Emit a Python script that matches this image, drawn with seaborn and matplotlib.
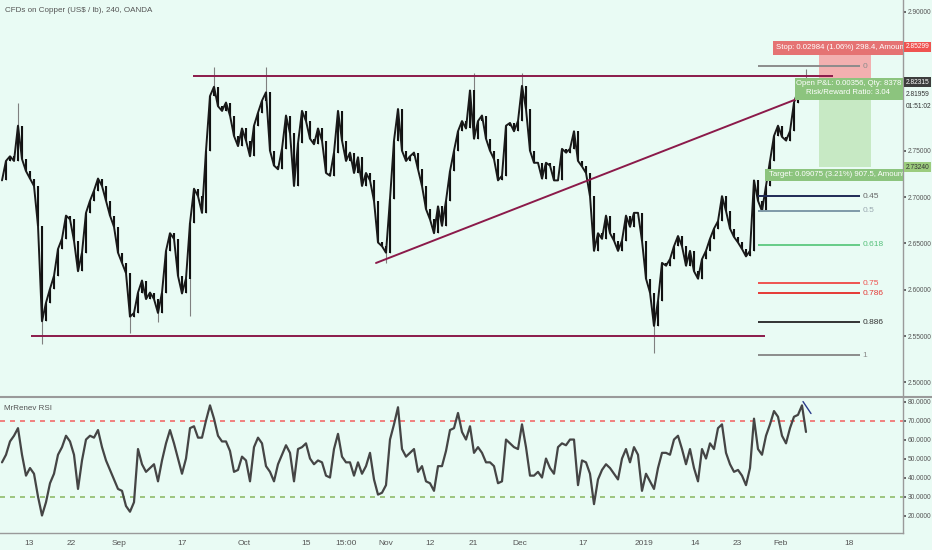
import matplotlib
matplotlib.use("Agg")
import matplotlib.pyplot as plt
from matplotlib.patches import Rectangle
from matplotlib.lines import Line2D
from matplotlib.ticker import FormatStrFormatter
import seaborn as sns
import numpy as np
import pandas as pd

# 4h closes, one value per ~4 candles
closes = [
    2.718, 2.739, 2.744, 2.739, 2.777, 2.741, 2.728, 2.720, 2.712, 2.669,
    2.566, 2.586, 2.601, 2.615, 2.644, 2.655, 2.680, 2.676, 2.653, 2.620,
    2.640, 2.683, 2.696, 2.707, 2.720, 2.712, 2.696, 2.680, 2.668, 2.640,
    2.629, 2.618, 2.571, 2.575, 2.597, 2.610, 2.590, 2.597, 2.590, 2.575,
    2.597, 2.642, 2.661, 2.655, 2.615, 2.596, 2.612, 2.672, 2.709, 2.701,
    2.683, 2.750, 2.809, 2.819, 2.798, 2.793, 2.802, 2.788, 2.766, 2.755,
    2.774, 2.761, 2.744, 2.777, 2.791, 2.804, 2.813, 2.750, 2.734, 2.730,
    2.752, 2.788, 2.769, 2.712, 2.758, 2.793, 2.782, 2.763, 2.757, 2.774,
    2.761, 2.726, 2.723, 2.748, 2.793, 2.761, 2.739, 2.748, 2.726, 2.743,
    2.712, 2.726, 2.718, 2.696, 2.651, 2.647, 2.640, 2.698, 2.761, 2.795,
    2.750, 2.739, 2.744, 2.748, 2.730, 2.712, 2.687, 2.676, 2.661, 2.690,
    2.669, 2.696, 2.728, 2.750, 2.771, 2.782, 2.774, 2.815, 2.763, 2.782,
    2.788, 2.763, 2.750, 2.741, 2.718, 2.723, 2.777, 2.780, 2.771, 2.782,
    2.820, 2.795, 2.750, 2.737, 2.737, 2.720, 2.737, 2.734, 2.718, 2.718,
    2.752, 2.748, 2.752, 2.771, 2.739, 2.733, 2.726, 2.701, 2.642, 2.661,
    2.655, 2.680, 2.661, 2.653, 2.642, 2.653, 2.680, 2.668, 2.683, 2.683,
    2.653, 2.612, 2.597, 2.561, 2.588, 2.629, 2.626, 2.633, 2.647, 2.658,
    2.647, 2.626, 2.642, 2.620, 2.612, 2.633, 2.642, 2.655, 2.666, 2.674,
    2.701, 2.685, 2.666, 2.657, 2.651, 2.644, 2.636, 2.642, 2.718, 2.696,
    2.685, 2.712, 2.739, 2.766, 2.777, 2.765, 2.761, 2.771, 2.802, 2.815,
    2.823, 2.8196,
]

rsi = [
    48, 52, 59, 62, 66, 52, 41, 45, 42, 30,
    20, 27, 37, 42, 52, 56, 62, 59, 52, 34,
    49, 60, 62, 61, 65, 56, 49, 44, 39, 34,
    33, 25, 22, 27, 55, 47, 43, 45, 47, 38,
    49, 58, 65, 58, 50, 42, 50, 66, 67, 61,
    61, 70, 78, 71, 62, 59, 59, 54, 43, 44,
    51, 49, 38, 56, 61, 58, 46, 43, 38, 47,
    52, 57, 53, 38, 55, 56, 58, 50, 47, 49,
    48, 41, 40, 55, 63, 51, 48, 48, 41, 48,
    42, 46, 53, 39, 31, 32, 36, 60, 68, 77,
    55, 51, 53, 55, 43, 46, 38, 37, 33, 46,
    46, 54, 65, 66, 74, 64, 60, 67, 53, 56,
    53, 48, 48, 46, 37, 38, 60, 58, 56, 55,
    68, 56, 41, 41, 43, 40, 50, 45, 42, 56,
    58, 57, 60, 60, 36, 49, 48, 42, 26, 39,
    44, 47, 45, 42, 39, 50, 55, 48, 56, 52,
    33, 42, 38, 34, 45, 53, 53, 52, 60, 62,
    55, 47, 55, 45, 38, 55, 50, 58, 55, 66,
    68, 53, 47, 43, 44, 41, 36, 45, 71, 55,
    52, 62, 68, 75, 72, 62, 58, 66, 72, 73,
    78, 64,
]

# long wicks that stick out of the close path
spike_idx = [4, 10, 32, 39, 47, 53, 66, 96, 118, 130, 163, 201]
spike_px = [2.801, 2.541, 2.553, 2.565, 2.572, 2.840, 2.840, 2.629, 2.834, 2.834, 2.532, 2.838]

tick_pos = [6.75, 17.25, 29.25, 45, 60.5, 76, 86, 96, 107, 117.75, 129.5,
            145.25, 160.5, 173.25, 183.75, 194.75, 211.75]
tick_lbl = ['13', '22', 'Sep', '17', 'Oct', '15', '15:00', 'Nov', '12', '21', 'Dec',
            '17', '2019', '14', '23', 'Feb', '18']

price_ticks = [2.50, 2.55, 2.60, 2.65, 2.70, 2.75, 2.90]
rsi_ticks = [20, 30, 40, 50, 60, 70, 80]

# drawings
resist_px, resist_x = 2.8305, [47.75, 207.75]
support_px, support_x = 2.5497, [7.25, 190.75]
trend_x, trend_px = [93.5, 199.5], [2.6289, 2.8071]

fib_levels = [0, 0.45, 0.5, 0.618, 0.75, 0.786, 0.886, 1]
fib_colors = ['#8c8c8c', '#1f2a55', '#7f9aa8', '#66cc88', '#ef5350', '#e53935', '#333333', '#8c8c8c']
fib_text_colors = ['#8c8c8c', '#666666', '#9aa8b0', '#55c07a', '#ef5350', '#e53935', '#333333', '#8c8c8c']
fib_high, fib_low = 2.8409, 2.5293
fib_x = [189, 214.5]

entry, stop, target, last = 2.82315, 2.85299, 2.73240, 2.81959
pos_x = [204.25, 217.25]

bg = '#e9fbf4'
maroon = '#8b1a4a'
sns.set_theme(style="white", rc={'axes.facecolor': bg, 'figure.facecolor': bg})
plt.rcParams['font.family'] = ['Liberation Sans', 'DejaVu Sans']

W, H = 932, 550
fig = plt.figure(figsize=(W / 100, H / 100), dpi=100)
ax = fig.add_axes([0, 1 - 396 / H, 903 / W, 396 / H])
ax2 = fig.add_axes([0, 1 - 533 / H, 903 / W, (533 - 397) / H])

# candles
n = len(closes)
bars = np.arange(n)
c = np.array(closes)
o = np.r_[c[0], c[:-1]]
hi = np.maximum(o, c)
lo = np.minimum(o, c)
wh, wl = hi.copy(), lo.copy()
for i, p in zip(spike_idx, spike_px):
    if p > wh[i]:
        wh[i] = p
    else:
        wl[i] = min(wl[i], p)
ax.vlines(bars, wl, wh, color='#808080', lw=0.8, zorder=2)
ax.vlines(bars, lo, hi, color='#111111', lw=1.5, zorder=3)
sns.lineplot(x=bars, y=c, ax=ax, color='#1a1a1a', lw=1.4, zorder=3)

# trend lines
ax.hlines(resist_px, *resist_x, color=maroon, lw=1.4, zorder=4)
ax.hlines(support_px, *support_x, color=maroon, lw=1.4, zorder=4)
ax.plot(trend_x, trend_px, color=maroon, lw=1.4, zorder=4)

# fib retracement
for lev, col, tcol in zip(fib_levels, fib_colors, fib_text_colors):
    p = fib_high - lev * (fib_high - fib_low)
    ax.hlines(p, *fib_x, color=col, lw=1.4, zorder=4)
    ax.text(fib_x[1] + 0.6, p, str(lev), color=tcol, fontsize=6, va='center', ha='left')

# short position boxes
ax.add_patch(Rectangle((pos_x[0], entry), pos_x[1] - pos_x[0], stop - entry,
                       fc='#f2b0b0', ec='none', zorder=1))
ax.add_patch(Rectangle((pos_x[0], target), pos_x[1] - pos_x[0], entry - target,
                       fc='#c7e9c4', ec='none', zorder=1))

# position labels
lab_fs = 5.6
ax.add_patch(Rectangle((192.75, 2.8536), 40, 0.0151, fc='#e57373', ec='none', zorder=5))
ax.text(193.6, 2.8612, 'Stop: 0.02984 (1.06%) 298.4, Amount', color='white',
        fontsize=lab_fs, va='center', ha='left', zorder=6, clip_on=True)
ax.add_patch(Rectangle((198.25, 2.8051), 40, 0.0237, fc='#8cc47e', ec='none', zorder=5))
ax.text(211.6, 2.8223, 'Open P&L: 0.00356, Qty: 8378', color='white',
        fontsize=lab_fs, va='center', ha='center', zorder=6, clip_on=True)
ax.text(211.6, 2.8126, 'Risk/Reward Ratio: 3.04', color='white',
        fontsize=lab_fs, va='center', ha='center', zorder=6, clip_on=True)
ax.add_patch(Rectangle((190.75, 2.7177), 40, 0.0129, fc='#8cc47e', ec='none', zorder=5))
ax.text(191.8, 2.7242, 'Target: 0.09075 (3.21%) 907.5, Amount:', color='white',
        fontsize=lab_fs, va='center', ha='left', zorder=6, clip_on=True)

# RSI panel
rsi_df = pd.DataFrame({'bar': bars, 'rsi': rsi})
ax2.axhline(70, color='#f26b6b', ls=(0, (3, 3)), lw=1.2)
ax2.axhline(30, color='#8fbc6a', ls=(0, (3, 3)), lw=1.2)
sns.lineplot(data=rsi_df, x='bar', y='rsi', ax=ax2, color='#454545', lw=1.6)
ax2.plot([200.25, 202.25], [80, 73.7], color='#2a3a8a', lw=1.0)

# axes styling
xlim = (-0.5, 225.25)
ax.set_xlim(*xlim)
ax2.set_xlim(*xlim)
ax.set_ylim(2.4854, 2.9126)
ax2.set_ylim(10.8, 82.4)
for a in (ax, ax2):
    a.set_xlabel('')
    a.set_ylabel('')
    a.yaxis.tick_right()
    for s in ('left', 'top'):
        a.spines[s].set_visible(False)
    a.spines['right'].set_color('#9a9a9a')
    a.spines['right'].set_linewidth(1.0)
    a.tick_params(axis='y', labelsize=4.8, colors='#555555', length=2, pad=1.2, direction='out')
ax.spines['bottom'].set_visible(False)
ax2.spines['bottom'].set_color('#9a9a9a')
ax2.spines['bottom'].set_linewidth(1.0)
ax.set_xticks([])
ax.set_yticks(price_ticks)
ax.yaxis.set_major_formatter(FormatStrFormatter('%.5f'))
ax2.set_yticks(rsi_ticks)
ax2.yaxis.set_major_formatter(FormatStrFormatter('%.4f'))
ax2.set_xticks(tick_pos)
ax2.set_xticklabels(tick_lbl)
ax2.tick_params(axis='x', labelsize=6, colors='#555555', length=3, pad=2, direction='out')

fig.add_artist(Line2D([0, 1], [1 - 396.5 / H] * 2, color='#9a9a9a', lw=1.5))

# price scale labels
def ftxt(x, y, s, fs=4.8, **kw):
    fig.text(x / W, 1 - y / H, s, fontsize=fs, va='center', ha='left', **kw)

ftxt(905.5, 47, f'{stop:.5f}', color='white',
     bbox=dict(boxstyle='square,pad=0.25', fc='#ef5350', ec='none'))
ftxt(905.5, 82, f'{entry:.5f}', color='white',
     bbox=dict(boxstyle='square,pad=0.25', fc='#3d3d3d', ec='none'))
ftxt(905.5, 95, f'{last:.5f}', color='#333333')
ftxt(905.5, 107, '01:51:02', color='#333333')
ftxt(905.5, 167, f'{target:.5f}', color='#333333',
     bbox=dict(boxstyle='square,pad=0.25', fc='#9ccc7e', ec='none'))

ftxt(5, 11, r'CFDs on Copper (US\$ / lb), 240, OANDA', fs=5.8, color='#555555')
ftxt(4, 409, 'MrRenev RSI', fs=5.8, color='#555555')

fig.savefig('out.png', dpi=100)
